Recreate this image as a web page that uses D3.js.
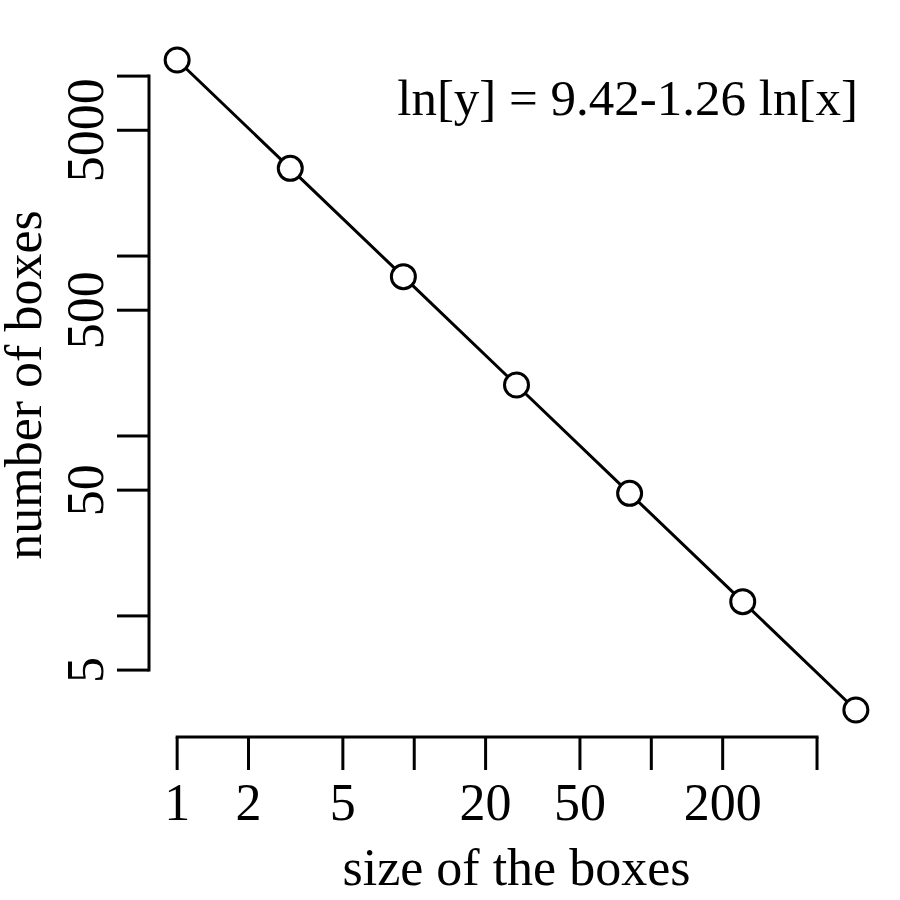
<!DOCTYPE html>
<html>
<head>
<meta charset="utf-8">
<script src="https://cdnjs.cloudflare.com/ajax/libs/d3/7.8.5/d3.min.js"></script>
<style>
  body { margin: 0; background: #fff; }
  text { font-family: "Liberation Serif", "Times New Roman", serif; fill: #000; }
</style>
</head>
<body>
<script>
var width = 900,
    height = 900;

// data: box size vs number of boxes
var boxSize = [1, 3, 9, 27, 81, 243, 729];
var boxCount = [12288, 3072, 768, 192, 48, 12, 3];

var xTicks = [1, 2, 5, 10, 20, 50, 100, 200, 500];
var xTickLabels = ["1", "2", "5", "", "20", "50", "", "200", ""];
var yTicks = [5, 10, 50, 100, 500, 1000, 5000, 10000];
var yTickLabels = ["5", "", "50", "", "500", "", "5000", ""];

var fitLabel = "ln[y] = 9.42-1.26 ln[x]";

// R style 4% padding on log range
function padLog(vals) {
    var lo = Math.log10(d3.min(vals)), hi = Math.log10(d3.max(vals));
    var p = (hi - lo) * 0.04;
    return [Math.pow(10, lo - p), Math.pow(10, hi + p)];
}

var x = d3.scaleLog()
    .domain(padLog(boxSize))
    .range([150, 883]);

var y = d3.scaleLog()
    .domain(padLog(boxCount))
    .range([736, 34]);

var svg = d3.select("body").append("svg")
    .attr("width", width)
    .attr("height", height);

var fontSize = 52;

// x axis
var xAxis = svg.append("g")
    .attr("transform", "translate(0,737)");
xAxis.append("line")
    .attr("x1", x(xTicks[0])).attr("x2", x(xTicks[xTicks.length - 1]))
    .attr("stroke", "#000").attr("stroke-width", 3).attr("stroke-linecap", "square");
xAxis.selectAll("line.tick")
    .data(xTicks)
    .enter().append("line")
    .attr("class", "tick")
    .attr("x1", function(d) { return x(d); })
    .attr("x2", function(d) { return x(d); })
    .attr("y1", 0).attr("y2", 33)
    .attr("stroke", "#000").attr("stroke-width", 3);
xAxis.selectAll("text")
    .data(xTicks)
    .enter().append("text")
    .attr("x", function(d) { return x(d); })
    .attr("y", 83)
    .attr("text-anchor", "middle")
    .style("font-size", fontSize + "px")
    .text(function(d, i) { return xTickLabels[i]; });

// y axis
var yAxis = svg.append("g")
    .attr("transform", "translate(149,0)");
yAxis.append("line")
    .attr("y1", y(yTicks[0])).attr("y2", y(yTicks[yTicks.length - 1]))
    .attr("stroke", "#000").attr("stroke-width", 3).attr("stroke-linecap", "square");
yAxis.selectAll("line.tick")
    .data(yTicks)
    .enter().append("line")
    .attr("class", "tick")
    .attr("y1", function(d) { return y(d); })
    .attr("y2", function(d) { return y(d); })
    .attr("x1", 0).attr("x2", -32)
    .attr("stroke", "#000").attr("stroke-width", 3);
yAxis.selectAll("text")
    .data(yTicks)
    .enter().append("text")
    .attr("transform", function(d) { return "translate(-46," + y(d) + ") rotate(-90)"; })
    .attr("text-anchor", "middle")
    .style("font-size", fontSize + "px")
    .text(function(d, i) { return yTickLabels[i]; });

// axis titles
svg.append("text")
    .attr("x", (150 + 883) / 2)
    .attr("y", 885)
    .attr("text-anchor", "middle")
    .style("font-size", fontSize + "px")
    .text("size of the boxes");

svg.append("text")
    .attr("transform", "translate(41," + (34 + 736) / 2 + ") rotate(-90)")
    .attr("text-anchor", "middle")
    .style("font-size", fontSize + "px")
    .text("number of boxes");

// line and points
var line = d3.line()
    .x(function(d) { return x(d[0]); })
    .y(function(d) { return y(d[1]); });

var pts = d3.zip(boxSize, boxCount);

svg.append("path")
    .datum(pts)
    .attr("d", line)
    .attr("fill", "none")
    .attr("stroke", "#000")
    .attr("stroke-width", 3);

svg.selectAll("circle")
    .data(pts)
    .enter().append("circle")
    .attr("cx", function(d) { return x(d[0]); })
    .attr("cy", function(d) { return y(d[1]); })
    .attr("r", 12)
    .attr("fill", "#fff")
    .attr("stroke", "#000")
    .attr("stroke-width", 3);

// fit annotation
svg.append("text")
    .attr("x", 858)
    .attr("y", 115)
    .attr("text-anchor", "end")
    .style("font-size", "51px")
    .text(fitLabel);
</script>
</body>
</html>
